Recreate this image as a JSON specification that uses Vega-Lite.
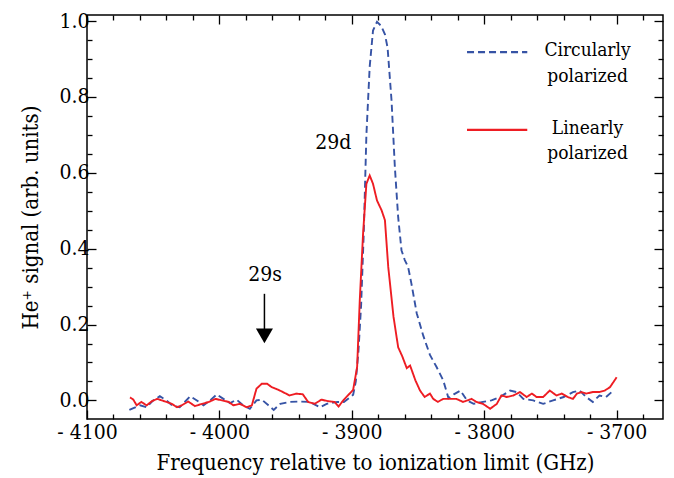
{
  "$schema": "https://vega.github.io/schema/vega-lite/v6.json",
  "width": 576,
  "height": 404,
  "autosize": {"type": "none"},
  "padding": {"left": 87, "top": 15, "right": 11, "bottom": 59},
  "background": "white",
  "config": {
    "font": "DejaVu Serif Condensed",
    "view": {"stroke": "black", "strokeWidth": 1.5},
    "axis": {"domain": false, "grid": false, "tickColor": "black", "tickWidth": 1.3, "labelColor": "black", "titleColor": "black", "labelFont": "DejaVu Serif Condensed", "titleFont": "DejaVu Serif Condensed", "labelFontSize": 21, "titleFontSize": 22, "titleFontWeight": "normal", "labelOverlap": false, "labelFlush": false}
  },
  "datasets": {
    "main": [
      {"pol": "Circularly polarized", "f": -4068, "s": -0.025},
      {"pol": "Circularly polarized", "f": -4060, "s": -0.013},
      {"pol": "Circularly polarized", "f": -4055, "s": -0.018},
      {"pol": "Circularly polarized", "f": -4050, "s": 0.0},
      {"pol": "Circularly polarized", "f": -4045, "s": 0.011},
      {"pol": "Circularly polarized", "f": -4040, "s": 0.0},
      {"pol": "Circularly polarized", "f": -4035, "s": -0.015},
      {"pol": "Circularly polarized", "f": -4030, "s": -0.018},
      {"pol": "Circularly polarized", "f": -4022, "s": 0.011},
      {"pol": "Circularly polarized", "f": -4017, "s": 0.0},
      {"pol": "Circularly polarized", "f": -4012, "s": -0.013},
      {"pol": "Circularly polarized", "f": -4007, "s": 0.0},
      {"pol": "Circularly polarized", "f": -4002, "s": 0.016},
      {"pol": "Circularly polarized", "f": -3997, "s": 0.004},
      {"pol": "Circularly polarized", "f": -3992, "s": -0.007},
      {"pol": "Circularly polarized", "f": -3987, "s": 0.002},
      {"pol": "Circularly polarized", "f": -3982, "s": -0.013},
      {"pol": "Circularly polarized", "f": -3977, "s": -0.022},
      {"pol": "Circularly polarized", "f": -3972, "s": 0.0},
      {"pol": "Circularly polarized", "f": -3968, "s": 0.002},
      {"pol": "Circularly polarized", "f": -3963, "s": -0.013},
      {"pol": "Circularly polarized", "f": -3959, "s": -0.025},
      {"pol": "Circularly polarized", "f": -3954, "s": -0.009},
      {"pol": "Circularly polarized", "f": -3947, "s": -0.004},
      {"pol": "Circularly polarized", "f": -3939, "s": -0.003},
      {"pol": "Circularly polarized", "f": -3932, "s": -0.004},
      {"pol": "Circularly polarized", "f": -3924, "s": -0.018},
      {"pol": "Circularly polarized", "f": -3919, "s": -0.009},
      {"pol": "Circularly polarized", "f": -3911, "s": -0.004},
      {"pol": "Circularly polarized", "f": -3906, "s": -0.004},
      {"pol": "Circularly polarized", "f": -3901, "s": 0.009},
      {"pol": "Circularly polarized", "f": -3899, "s": 0.015},
      {"pol": "Circularly polarized", "f": -3897, "s": 0.05},
      {"pol": "Circularly polarized", "f": -3895, "s": 0.13},
      {"pol": "Circularly polarized", "f": -3893, "s": 0.25},
      {"pol": "Circularly polarized", "f": -3891, "s": 0.44},
      {"pol": "Circularly polarized", "f": -3889, "s": 0.7},
      {"pol": "Circularly polarized", "f": -3886.5, "s": 0.88},
      {"pol": "Circularly polarized", "f": -3884, "s": 0.975},
      {"pol": "Circularly polarized", "f": -3881, "s": 0.998},
      {"pol": "Circularly polarized", "f": -3878, "s": 0.988},
      {"pol": "Circularly polarized", "f": -3875, "s": 0.965},
      {"pol": "Circularly polarized", "f": -3873, "s": 0.93},
      {"pol": "Circularly polarized", "f": -3870, "s": 0.79},
      {"pol": "Circularly polarized", "f": -3867.5, "s": 0.615},
      {"pol": "Circularly polarized", "f": -3865, "s": 0.483},
      {"pol": "Circularly polarized", "f": -3862.5, "s": 0.396},
      {"pol": "Circularly polarized", "f": -3860, "s": 0.37},
      {"pol": "Circularly polarized", "f": -3857.5, "s": 0.352},
      {"pol": "Circularly polarized", "f": -3855, "s": 0.308},
      {"pol": "Circularly polarized", "f": -3851, "s": 0.23},
      {"pol": "Circularly polarized", "f": -3846, "s": 0.17},
      {"pol": "Circularly polarized", "f": -3841, "s": 0.12},
      {"pol": "Circularly polarized", "f": -3836, "s": 0.088},
      {"pol": "Circularly polarized", "f": -3831, "s": 0.053},
      {"pol": "Circularly polarized", "f": -3827, "s": 0.006},
      {"pol": "Circularly polarized", "f": -3823, "s": 0.016},
      {"pol": "Circularly polarized", "f": -3818, "s": 0.026},
      {"pol": "Circularly polarized", "f": -3813, "s": 0.0},
      {"pol": "Circularly polarized", "f": -3808, "s": -0.009},
      {"pol": "Circularly polarized", "f": -3801, "s": -0.004},
      {"pol": "Circularly polarized", "f": -3794.5, "s": 0.0},
      {"pol": "Circularly polarized", "f": -3788, "s": 0.009},
      {"pol": "Circularly polarized", "f": -3780.5, "s": 0.026},
      {"pol": "Circularly polarized", "f": -3775.5, "s": 0.022},
      {"pol": "Circularly polarized", "f": -3770.5, "s": 0.004},
      {"pol": "Circularly polarized", "f": -3763, "s": 0.0},
      {"pol": "Circularly polarized", "f": -3755.5, "s": -0.009},
      {"pol": "Circularly polarized", "f": -3748, "s": 0.0},
      {"pol": "Circularly polarized", "f": -3740, "s": 0.009},
      {"pol": "Circularly polarized", "f": -3733, "s": 0.022},
      {"pol": "Circularly polarized", "f": -3728, "s": 0.026},
      {"pol": "Circularly polarized", "f": -3723, "s": 0.009},
      {"pol": "Circularly polarized", "f": -3718, "s": -0.004},
      {"pol": "Circularly polarized", "f": -3713, "s": 0.013},
      {"pol": "Circularly polarized", "f": -3708, "s": 0.009},
      {"pol": "Circularly polarized", "f": -3702.5, "s": 0.026},
      {"pol": "Linearly polarized", "f": -4067.5, "s": 0.008},
      {"pol": "Linearly polarized", "f": -4065, "s": 0.002},
      {"pol": "Linearly polarized", "f": -4062.5, "s": -0.013},
      {"pol": "Linearly polarized", "f": -4059, "s": -0.004},
      {"pol": "Linearly polarized", "f": -4055, "s": -0.013},
      {"pol": "Linearly polarized", "f": -4051, "s": -0.002},
      {"pol": "Linearly polarized", "f": -4047, "s": 0.004},
      {"pol": "Linearly polarized", "f": -4043.5, "s": 0.0},
      {"pol": "Linearly polarized", "f": -4040, "s": -0.004},
      {"pol": "Linearly polarized", "f": -4036, "s": -0.009},
      {"pol": "Linearly polarized", "f": -4032, "s": -0.018},
      {"pol": "Linearly polarized", "f": -4028.5, "s": -0.013},
      {"pol": "Linearly polarized", "f": -4023.5, "s": -0.003},
      {"pol": "Linearly polarized", "f": -4018.5, "s": -0.015},
      {"pol": "Linearly polarized", "f": -4013, "s": -0.009},
      {"pol": "Linearly polarized", "f": -4008, "s": -0.004},
      {"pol": "Linearly polarized", "f": -4003, "s": 0.004},
      {"pol": "Linearly polarized", "f": -3998, "s": 0.0},
      {"pol": "Linearly polarized", "f": -3993, "s": -0.004},
      {"pol": "Linearly polarized", "f": -3989.5, "s": -0.013},
      {"pol": "Linearly polarized", "f": -3984.5, "s": -0.009},
      {"pol": "Linearly polarized", "f": -3979.5, "s": -0.018},
      {"pol": "Linearly polarized", "f": -3975.5, "s": -0.013},
      {"pol": "Linearly polarized", "f": -3972, "s": 0.031},
      {"pol": "Linearly polarized", "f": -3968, "s": 0.044},
      {"pol": "Linearly polarized", "f": -3964, "s": 0.044},
      {"pol": "Linearly polarized", "f": -3960.5, "s": 0.035},
      {"pol": "Linearly polarized", "f": -3955.5, "s": 0.028},
      {"pol": "Linearly polarized", "f": -3952, "s": 0.022},
      {"pol": "Linearly polarized", "f": -3947, "s": 0.013},
      {"pol": "Linearly polarized", "f": -3942, "s": 0.018},
      {"pol": "Linearly polarized", "f": -3937, "s": 0.016},
      {"pol": "Linearly polarized", "f": -3933, "s": -0.004},
      {"pol": "Linearly polarized", "f": -3928, "s": -0.009},
      {"pol": "Linearly polarized", "f": -3923, "s": 0.002},
      {"pol": "Linearly polarized", "f": -3918, "s": -0.002},
      {"pol": "Linearly polarized", "f": -3913, "s": -0.004},
      {"pol": "Linearly polarized", "f": -3910, "s": -0.016},
      {"pol": "Linearly polarized", "f": -3906, "s": 0.002},
      {"pol": "Linearly polarized", "f": -3903, "s": 0.013},
      {"pol": "Linearly polarized", "f": -3899, "s": 0.028},
      {"pol": "Linearly polarized", "f": -3896, "s": 0.088},
      {"pol": "Linearly polarized", "f": -3894, "s": 0.264},
      {"pol": "Linearly polarized", "f": -3891.5, "s": 0.44},
      {"pol": "Linearly polarized", "f": -3889, "s": 0.571},
      {"pol": "Linearly polarized", "f": -3886.5, "s": 0.593},
      {"pol": "Linearly polarized", "f": -3884, "s": 0.571},
      {"pol": "Linearly polarized", "f": -3881, "s": 0.527},
      {"pol": "Linearly polarized", "f": -3877.5, "s": 0.501},
      {"pol": "Linearly polarized", "f": -3875, "s": 0.475},
      {"pol": "Linearly polarized", "f": -3872.5, "s": 0.352},
      {"pol": "Linearly polarized", "f": -3868.5, "s": 0.22},
      {"pol": "Linearly polarized", "f": -3865, "s": 0.14},
      {"pol": "Linearly polarized", "f": -3862, "s": 0.117},
      {"pol": "Linearly polarized", "f": -3858.5, "s": 0.085},
      {"pol": "Linearly polarized", "f": -3856, "s": 0.092},
      {"pol": "Linearly polarized", "f": -3852, "s": 0.053},
      {"pol": "Linearly polarized", "f": -3848.5, "s": 0.026},
      {"pol": "Linearly polarized", "f": -3845, "s": 0.009},
      {"pol": "Linearly polarized", "f": -3841, "s": 0.018},
      {"pol": "Linearly polarized", "f": -3838.5, "s": 0.004},
      {"pol": "Linearly polarized", "f": -3835, "s": -0.004},
      {"pol": "Linearly polarized", "f": -3831, "s": 0.004},
      {"pol": "Linearly polarized", "f": -3826, "s": 0.004},
      {"pol": "Linearly polarized", "f": -3821, "s": 0.004},
      {"pol": "Linearly polarized", "f": -3816, "s": -0.004},
      {"pol": "Linearly polarized", "f": -3809.5, "s": 0.004},
      {"pol": "Linearly polarized", "f": -3806, "s": -0.004},
      {"pol": "Linearly polarized", "f": -3801, "s": -0.009},
      {"pol": "Linearly polarized", "f": -3795.5, "s": -0.022},
      {"pol": "Linearly polarized", "f": -3790.5, "s": -0.009},
      {"pol": "Linearly polarized", "f": -3787, "s": 0.013},
      {"pol": "Linearly polarized", "f": -3783, "s": 0.009},
      {"pol": "Linearly polarized", "f": -3778, "s": 0.013},
      {"pol": "Linearly polarized", "f": -3773, "s": 0.022},
      {"pol": "Linearly polarized", "f": -3768, "s": 0.009},
      {"pol": "Linearly polarized", "f": -3764, "s": 0.018},
      {"pol": "Linearly polarized", "f": -3760.5, "s": 0.009},
      {"pol": "Linearly polarized", "f": -3755.5, "s": 0.009},
      {"pol": "Linearly polarized", "f": -3750.5, "s": 0.026},
      {"pol": "Linearly polarized", "f": -3745.5, "s": 0.013},
      {"pol": "Linearly polarized", "f": -3741.5, "s": 0.018},
      {"pol": "Linearly polarized", "f": -3737, "s": 0.009},
      {"pol": "Linearly polarized", "f": -3733, "s": 0.004},
      {"pol": "Linearly polarized", "f": -3730, "s": 0.018},
      {"pol": "Linearly polarized", "f": -3726.5, "s": 0.022},
      {"pol": "Linearly polarized", "f": -3723, "s": 0.018},
      {"pol": "Linearly polarized", "f": -3718, "s": 0.022},
      {"pol": "Linearly polarized", "f": -3713, "s": 0.022},
      {"pol": "Linearly polarized", "f": -3709, "s": 0.026},
      {"pol": "Linearly polarized", "f": -3705, "s": 0.035},
      {"pol": "Linearly polarized", "f": -3700, "s": 0.061}
    ],
    "legendLines": [
      {"pol": "Circularly polarized", "x1": -3813, "x2": -3767.5, "y": 0.918},
      {"pol": "Linearly polarized", "x1": -3813, "x2": -3767.5, "y": 0.713}
    ],
    "labels": [
      {"t": "Circularly", "x": -3722, "y": 0.924, "size": 19},
      {"t": "polarized", "x": -3722, "y": 0.856, "size": 19},
      {"t": "Linearly", "x": -3722, "y": 0.717, "size": 19},
      {"t": "polarized", "x": -3722, "y": 0.652, "size": 19},
      {"t": "29d", "x": -3914, "y": 0.678, "size": 21},
      {"t": "29s", "x": -3965.5, "y": 0.33, "size": 21}
    ],
    "arrow": [
      {"x": -3966, "y": 0.281, "y2": 0.17}
    ]
  },
  "layer": [
    {
      "data": {"name": "main"},
      "mark": {"type": "line", "strokeWidth": 1.9},
      "encoding": {
        "x": {
          "field": "f", "type": "quantitative",
          "scale": {"domain": [-4100, -3665], "nice": false, "zero": false},
          "axis": {
            "orient": "bottom",
            "values": [-4100, -4080, -4060, -4040, -4020, -4000, -3980, -3960, -3940, -3920, -3900, -3880, -3860, -3840, -3820, -3800, -3780, -3760, -3740, -3720, -3700, -3680],
            "labelExpr": "datum.value % 100 === 0 ? '- ' + format(-datum.value, 'd') : ''",
            "tickSize": {"condition": {"test": "datum.value % 100 === 0", "value": -9}, "value": -5},
            "labelPadding": 11,
            "title": "Frequency relative to ionization limit (GHz)",
            "titlePadding": 6
          }
        },
        "y": {
          "field": "s", "type": "quantitative",
          "scale": {"domain": [-0.049, 1.016], "nice": false, "zero": false},
          "axis": {
            "orient": "left",
            "values": [0, 0.05, 0.1, 0.15, 0.2, 0.25, 0.3, 0.35, 0.4, 0.45, 0.5, 0.55, 0.6, 0.65, 0.7, 0.75, 0.8, 0.85, 0.9, 0.95, 1.0],
            "labelExpr": "abs(datum.value * 5 - round(datum.value * 5)) < 0.001 ? format(datum.value, '.1f') : ''",
            "tickSize": {"condition": {"test": "abs(datum.value * 5 - round(datum.value * 5)) < 0.001", "value": -9}, "value": -5},
            "labelPadding": 7,
            "title": "He⁺ signal (arb. units)",
            "titlePadding": 16
          }
        },
        "color": {
          "field": "pol", "type": "nominal",
          "scale": {"domain": ["Circularly polarized", "Linearly polarized"], "range": ["#3653a5", "#ee1d23"]},
          "legend": null
        },
        "strokeDash": {
          "field": "pol", "type": "nominal",
          "scale": {"domain": ["Circularly polarized", "Linearly polarized"], "range": [[7, 4], [1, 0]]},
          "legend": null
        }
      }
    },
    {
      "data": {"name": "main"},
      "mark": {"type": "line", "opacity": 0},
      "encoding": {
        "x": {
          "field": "f", "type": "quantitative",
          "axis": {
            "orient": "top",
            "values": [-4100, -4080, -4060, -4040, -4020, -4000, -3980, -3960, -3940, -3920, -3900, -3880, -3860, -3840, -3820, -3800, -3780, -3760, -3740, -3720, -3700, -3680],
            "labels": false,
            "title": null,
            "tickSize": {"condition": {"test": "datum.value % 100 === 0", "value": -9}, "value": -5}
          }
        },
        "y": {
          "field": "s", "type": "quantitative",
          "axis": {
            "orient": "right",
            "values": [0, 0.05, 0.1, 0.15, 0.2, 0.25, 0.3, 0.35, 0.4, 0.45, 0.5, 0.55, 0.6, 0.65, 0.7, 0.75, 0.8, 0.85, 0.9, 0.95, 1.0],
            "labels": false,
            "title": null,
            "tickSize": {"condition": {"test": "abs(datum.value * 5 - round(datum.value * 5)) < 0.001", "value": -9}, "value": -5}
          }
        },
        "detail": {"field": "pol", "type": "nominal"}
      }
    },
    {
      "data": {"name": "legendLines"},
      "mark": {"type": "rule", "strokeWidth": 2.2},
      "encoding": {
        "x": {"field": "x1", "type": "quantitative", "axis": null},
        "x2": {"field": "x2"},
        "y": {"field": "y", "type": "quantitative", "axis": null},
        "color": {"field": "pol", "type": "nominal", "legend": null},
        "strokeDash": {"field": "pol", "type": "nominal", "legend": null}
      }
    },
    {
      "data": {"name": "labels"},
      "mark": {"type": "text", "align": "center", "baseline": "middle", "color": "black", "font": "DejaVu Serif Condensed"},
      "encoding": {
        "x": {"field": "x", "type": "quantitative", "axis": null},
        "y": {"field": "y", "type": "quantitative", "axis": null},
        "text": {"field": "t", "type": "nominal"},
        "size": {"field": "size", "type": "quantitative", "scale": null, "legend": null}
      }
    },
    {
      "data": {"name": "arrow"},
      "mark": {"type": "rule", "color": "black", "strokeWidth": 1.5},
      "encoding": {
        "x": {"field": "x", "type": "quantitative", "axis": null},
        "y": {"field": "y", "type": "quantitative", "axis": null},
        "y2": {"field": "y2"}
      }
    },
    {
      "data": {"name": "arrow"},
      "mark": {"type": "point", "shape": "triangle-down", "filled": true, "color": "black", "opacity": 1, "size": 290},
      "encoding": {
        "x": {"field": "x", "type": "quantitative", "axis": null},
        "y": {"field": "y2", "type": "quantitative", "axis": null}
      }
    }
  ],
  "resolve": {"axis": {"x": "independent", "y": "independent"}}
}
